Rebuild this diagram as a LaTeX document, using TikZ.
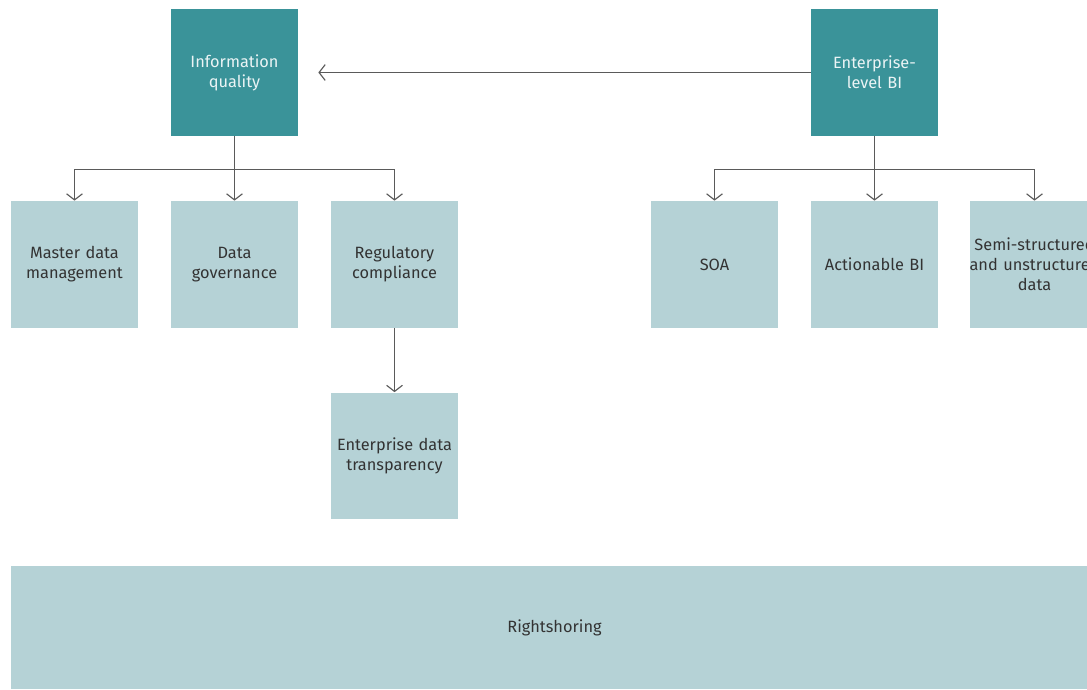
\documentclass[tikz,border=0pt]{standalone}
\usepackage{fontspec}
\setmainfont{Fira Sans}
\usepackage{xcolor}
\usetikzlibrary{positioning, arrows.meta}

\definecolor{darkteal}{HTML}{3A9399}
\definecolor{paleteal}{HTML}{B5D2D6}
\definecolor{wire}{HTML}{5A5A5A}

\tikzset{
    topbox/.style={fill=darkteal, text=white!90!darkteal, minimum width=2.54cm, minimum height=2.54cm, text width=2.3cm, align=center, inner sep=0pt, font=\fontsize{9.3}{11.3}\selectfont},
    subbox/.style={fill=paleteal, text=black!80, minimum width=2.54cm, minimum height=2.54cm, text width=2.4cm, align=center, inner sep=0pt, font=\fontsize{9.3}{11.3}\selectfont},
    link/.style={draw=wire, line width=0.65pt, -{Straight Barb[length=3.5pt,width=9pt]}}
}

\begin{document}
\begin{tikzpicture}[x=0.02cm, y=-0.02cm]
        \useasboundingbox (0, 0) rectangle (1087, 689);

        \node[topbox] (iq) at (234.5, 72.5) {Information quality};
        \node[topbox] (ebi) at (874.5, 72.5) {Enterprise-\\level BI};

        \node[subbox] (mdm) at (74.5, 264.5) {Master data management};
        \node[subbox] (gov) at (234.5, 264.5) {Data\\governance};
        \node[subbox] (reg) at (394.5, 264.5) {Regulatory compliance};
        \node[subbox] (soa) at (714.5, 264.5) {SOA};
        \node[subbox] (abi) at (874.5, 264.5) {Actionable BI};
        \node[subbox, text width=2.6cm] (semi) at (1034.5, 264.5) {Semi-structured\\and unstructured\\data};
        \node[subbox] (edt) at (394.5, 456) {Enterprise data transparency};
        \node[subbox, minimum width=21.74cm, minimum height=2.46cm, text width=20cm] (rs) at (554.5, 627.5) {Rightshoring};

        \coordinate[right=0.4cm of iq.east] (iqin);
        \draw[link] (ebi.west) -- (iqin);

        \draw[link] (iq.south) -- (gov.north);
        \draw[link] (iq.south) |- ++(0, 33) -| (mdm.north);
        \draw[link] (iq.south) |- ++(0, 33) -| (reg.north);
        \draw[link] (reg.south) -- (edt.north);

        \draw[link] (ebi.south) -- (abi.north);
        \draw[link] (ebi.south) |- ++(0, 33) -| (soa.north);
        \draw[link] (ebi.south) |- ++(0, 33) -| (semi.north);
    \end{tikzpicture}
\end{document}
